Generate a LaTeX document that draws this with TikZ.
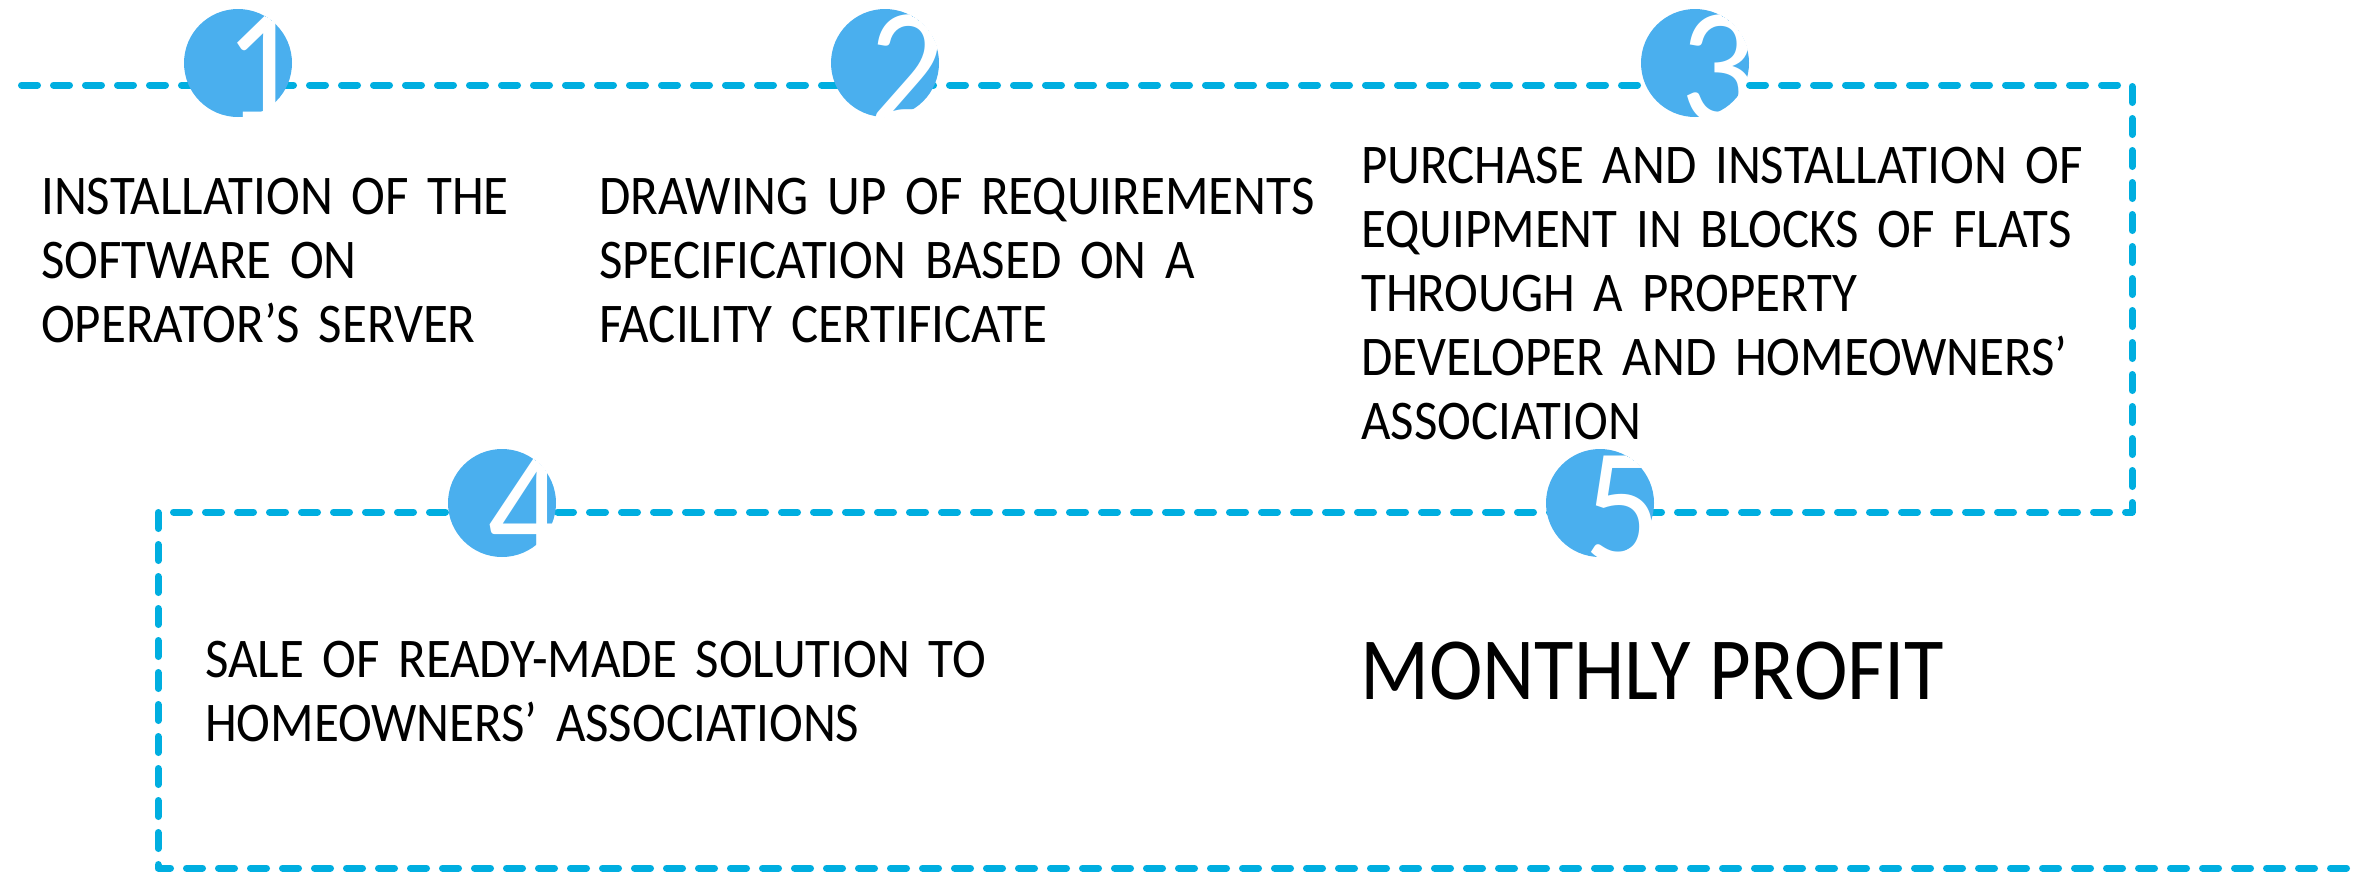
\documentclass[tikz,border=0pt]{standalone}
\usepackage{fontspec}
\setmainfont{Carlito}[FakeStretch=0.91]
\definecolor{lineblue}{HTML}{00AEE0}
\definecolor{dotblue}{HTML}{4AAFEE}
\begin{document}
\begin{tikzpicture}[x=1pt,y=-1pt,
  flow/.style={draw=lineblue, line width=7pt, line cap=round, line join=round, dash pattern=on 16pt off 16pt},
  dot/.style={circle, fill=dotblue, minimum size=108pt, inner sep=0pt},
  digit/.style={text=white, font=\fontsize{166}{166}\selectfont, inner sep=0pt, text depth=0pt, anchor=base west},
  txt/.style={anchor=base west, inner sep=0pt, align=left, font=\fontsize{56}{64.2}\selectfont},
  big/.style={anchor=base west, inner sep=0pt, font=\fontsize{88.7}{100}\selectfont}]
\useasboundingbox (0,0) rectangle (2369,879);
% dashed flow line
\coordinate (start) at (21.5,85);
\coordinate (tr) at (2132,85);
\coordinate (mr) at (2132,512);
\coordinate (ml) at (158,512);
\coordinate (bl) at (158,868);
\coordinate (end) at (2349.5,868);
\draw[flow] (start) -- (tr) -- (mr) -- (ml) -- (bl) -- (end);
% numbered dots
\node[dot] (c1) at (238,63) {};
\node[dot] (c2) at (885,63) {};
\node[dot] (c3) at (1695,63) {};
\node[dot] (c4) at (502,503) {};
\node[dot] (c5) at (1600,503) {};
\begin{scope}\clip (c1.center) circle (54pt); \node[digit] (n1) at (224,122) {1};\end{scope}
\begin{scope}\clip (c2.center) circle (54pt); \node[digit] (n2) at (869,122) {2};\end{scope}
\begin{scope}\clip (c3.center) circle (54pt); \node[digit] (n3) at (1680,122) {3};\end{scope}
\begin{scope}\clip (c4.center) circle (54pt); \node[digit] (n4) at (487,562) {4};\end{scope}
\begin{scope}\clip (c5.center) circle (54pt); \node[digit] (n5) at (1584,562) {5};\end{scope}
% texts
\node[txt, text width=480pt] (t1) at (41,214) {INSTALLATION OF THE\\SOFTWARE ON\\OPERATOR’S SERVER};
\node[txt, text width=740pt] (t2) at (599,214) {DRAWING UP OF REQUIREMENTS\\SPECIFICATION BASED ON A\\FACILITY CERTIFICATE};
\node[txt, text width=765pt] (t3) at (1361,183) {PURCHASE AND INSTALLATION OF\\EQUIPMENT IN BLOCKS OF FLATS\\THROUGH A PROPERTY\\DEVELOPER AND HOMEOWNERS’\\ASSOCIATION};
\node[txt, text width=800pt] (t4) at (205,677) {SALE OF READY-MADE SOLUTION TO\\HOMEOWNERS’ ASSOCIATIONS};
\node[big] (t5) at (1360,699) {MONTHLY PROFIT};
\end{tikzpicture}
\end{document}
